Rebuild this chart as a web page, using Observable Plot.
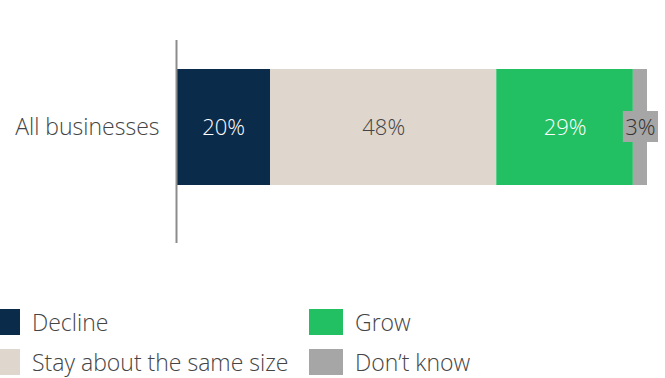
<!DOCTYPE html>
<html>
<head>
<meta charset="utf-8">
<script src="https://cdn.jsdelivr.net/npm/d3@7"></script>
<script src="https://cdn.jsdelivr.net/npm/@observablehq/plot@0.6"></script>
<style>
  html, body { margin: 0; padding: 0; background: #fff; overflow: hidden; }
  body { width: 665px; height: 378px; font-family: "Open Sans", Lato, sans-serif; font-weight: 300; }
  #chart svg { display: block; }
  .legend { position: absolute; left: -14px; top: 309px; display: grid; grid-template-columns: 323px 300px; row-gap: 14px; }
  .item { display: flex; align-items: center; height: 26px; line-height: 26px; font-size: 23px; color: #444; font-weight: 300; white-space: nowrap; }
  .sw { width: 34px; height: 26px; margin-right: 12px; flex: none; }
</style>
</head>
<body>
<div id="chart"></div>
<div class="legend" id="legend"></div>
<script>
const categories = ["All businesses"];
const responses = ["Decline", "Stay about the same size", "Grow", "Don’t know"];
const values = [20, 48, 29, 3];
const colors = ["#0b2b4b", "#dfd6cd", "#22c063", "#a6a6a6"];
const labelColors = ["#ffffff", "#444444", "#ffffff", "#333333"];
const legendOrder = ["Decline", "Grow", "Stay about the same size", "Don’t know"];

let acc = 0;
const data = responses.map((r, i) => {
  const d = {category: categories[0], response: r, value: values[i], x1: acc, x2: acc + values[i]};
  acc += values[i];
  return d;
});

const chart = Plot.plot({
  width: 665,
  height: 305,
  marginLeft: 176,
  marginRight: 18,
  marginTop: 69,
  marginBottom: 120,
  style: {fontFamily: "'Open Sans', Lato, sans-serif", fontSize: "22px", fontWeight: 300, color: "#444"},
  x: {domain: [0, 100], axis: null},
  color: {domain: responses, range: colors},
  marks: [
    Plot.rectX(data, {x1: "x1", x2: "x2", fill: "response"}),
    Plot.rectX(data.filter(d => d.value < 5), {x1: "x1", x2: "x2", fill: "#a6a6a6", insetLeft: -10, insetRight: -11, insetTop: 42, insetBottom: 43}),
    Plot.text(data, {x: d => (d.x1 + d.x2) / 2, frameAnchor: "middle", text: d => d.value + "%", fill: d => labelColors[responses.indexOf(d.response)], fontSize: 22, fontWeight: 300}),
    Plot.ruleX([0], {stroke: "#8c8c8c", strokeWidth: 2, insetTop: -29, insetBottom: -58}),
    Plot.text(categories, {frameAnchor: "left", text: d => d, textAnchor: "end", dx: -17, fontSize: 23, fontWeight: 300, fill: "#444"})
  ]
});
document.getElementById("chart").appendChild(chart);

const legend = document.getElementById("legend");
legendOrder.forEach(r => {
  const item = document.createElement("div");
  item.className = "item";
  const sw = document.createElement("span");
  sw.className = "sw";
  sw.style.background = colors[responses.indexOf(r)];
  item.appendChild(sw);
  item.appendChild(document.createTextNode(r));
  legend.appendChild(item);
});
</script>
</body>
</html>
